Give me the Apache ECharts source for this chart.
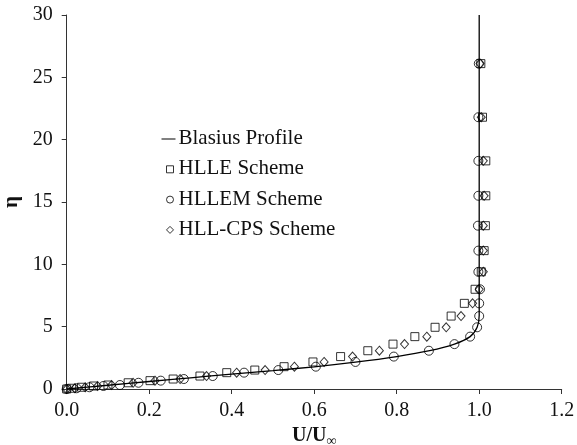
<!DOCTYPE html>
<html>
<head>
<meta charset="utf-8">
<script src="https://cdn.jsdelivr.net/npm/echarts@6/dist/echarts.min.js"></script>
<style>
  html, body { margin: 0; padding: 0; background: #fff; }
  #chart { width: 577px; height: 445px; }
</style>
</head>
<body>
<div id="chart"></div>
<script>
// eta levels shared by the three schemes
var etaLevels = [0, 0.06, 0.14, 0.24, 0.32, 0.5, 0.67, 0.8, 1.04, 1.31, 1.52, 1.79, 2.17, 2.6,
  3.07, 3.6, 4.2, 4.95, 5.85, 6.87, 8.0, 9.4, 11.1, 13.1, 15.5, 18.3, 21.8, 26.1];

var hlleU = [0, 0.012, 0.036, 0.065, 0.10, 0.149, 0.202, 0.258, 0.323, 0.388, 0.456, 0.527, 0.597, 0.664,
  0.730, 0.791, 0.844, 0.893, 0.932, 0.964, 0.99, 1.005, 1.012, 1.015, 1.016, 1.016, 1.008, 1.004];
var hllemU = [0, 0.024, 0.055, 0.089, 0.129, 0.174, 0.228, 0.284, 0.354, 0.43, 0.513, 0.604, 0.70, 0.793,
  0.878, 0.94, 0.978, 0.995, 1.0, 1.0, 1.002, 0.998, 0.998, 0.997, 0.998, 0.998, 0.998, 0.999];
var hllcpsU = [0, 0.02, 0.045, 0.075, 0.109, 0.161, 0.214, 0.275, 0.339, 0.412, 0.481, 0.552, 0.624, 0.693,
  0.758, 0.819, 0.873, 0.92, 0.956, 0.984, 1.0, 1.01, 1.01, 1.01, 1.012, 1.01, 1.005, 1.002];

// Blasius reference curve
var blasiusU = [0, 0.1, 0.2, 0.3, 0.4, 0.5, 0.6, 0.7, 0.8, 0.88, 0.94, 0.978, 0.995, 1.0, 1.0];
var blasiusEta = [0, 0.3, 0.6, 0.9, 1.2, 1.48, 1.78, 2.15, 2.6, 3.07, 3.6, 4.2, 4.95, 5.9, 30];

var xTicks = ['0.0', '0.2', '0.4', '0.6', '0.8', '1.0', '1.2'];

function pairs(us, etas) {
  var out = [];
  for (var i = 0; i < us.length; i++) out.push([us[i], etas[i]]);
  return out;
}

var font = '"Liberation Serif", "Times New Roman", serif';
var markerStyle = { color: 'transparent', borderColor: '#000', borderWidth: 1 };

// legend icons: the leading moves keep the 16x20 box so the small mark keeps its size
var box = 'M0,0 M16,20 ';
var iconLine = 'path://' + box + 'M0,10 L14,10 L14,11 L0,11 Z';
var iconRect = 'path://' + box + 'M5,7 L12,7 L12,14 L5,14 Z';
var iconCircle = 'path://' + box + 'M5,10.5 A3.5,3.5 0 1 1 12,10.5 A3.5,3.5 0 1 1 5,10.5 Z';
var iconDiamond = 'path://' + box + 'M8.5,7 L12,10.5 L8.5,14 L5,10.5 Z';

var chart = echarts.init(document.getElementById('chart'));
chart.setOption({
  animation: false,
  backgroundColor: '#fff',
  textStyle: { fontFamily: font, color: '#111' },
  grid: { left: 66.7, right: 15.3, top: 15, bottom: 56, containLabel: false, outerBoundsMode: 'none' },
  legend: {
    orient: 'vertical',
    left: 156,
    top: 123,
    itemGap: 9.3,
    itemWidth: 16,
    itemHeight: 20,
    textStyle: { fontFamily: font, fontSize: 21, color: '#111', padding: [0, 0, 0, -4] },
    data: [
      { name: 'Blasius Profile', icon: iconLine, itemStyle: { color: '#000', borderWidth: 0 } },
      { name: 'HLLE Scheme', icon: iconRect, itemStyle: markerStyle },
      { name: 'HLLEM Scheme', icon: iconCircle, itemStyle: markerStyle },
      { name: 'HLL-CPS Scheme', icon: iconDiamond, itemStyle: markerStyle }
    ]
  },
  xAxis: {
    type: 'value',
    min: 0, max: 1.2, interval: 0.2,
    name: '{b|U/U}{s|∞}',
    nameLocation: 'middle',
    nameGap: 33,
    nameTextStyle: {
      rich: {
        b: { fontFamily: font, fontSize: 20, fontWeight: 'bold', color: '#111' },
        s: { fontFamily: font, fontSize: 14, fontWeight: 'bold', color: '#111', padding: [10, 0, 0, 0] }
      }
    },
    splitLine: { show: false },
    axisLine: { lineStyle: { color: '#333', width: 1 } },
    axisTick: { show: true, inside: false, length: 5, lineStyle: { color: '#333' } },
    axisLabel: {
      fontSize: 20, color: '#111', margin: 12,
      formatter: function (v) { return xTicks[Math.round(v / 0.2)]; }
    }
  },
  yAxis: {
    type: 'value',
    min: 0, max: 30, interval: 5,
    name: 'η',
    nameLocation: 'middle',
    nameGap: 45,
    nameRotate: 90,
    nameTextStyle: { fontFamily: font, fontSize: 21, fontWeight: 'bold', color: '#111' },
    splitLine: { show: false },
    axisLine: { show: true, lineStyle: { color: '#333', width: 1 } },
    axisTick: { show: true, inside: false, length: 5, lineStyle: { color: '#333' } },
    axisLabel: { fontSize: 20, color: '#111', margin: 14 }
  },
  series: [
    {
      name: 'Blasius Profile',
      type: 'line',
      data: pairs(blasiusU, blasiusEta),
      showSymbol: false,
      smooth: 0.3,
      lineStyle: { color: '#000', width: 1.3 },
      itemStyle: { color: '#000' },
      z: 3
    },
    {
      name: 'HLLE Scheme',
      type: 'scatter',
      data: pairs(hlleU, etaLevels),
      symbol: 'rect',
      symbolSize: 8,
      itemStyle: markerStyle,
      z: 2
    },
    {
      name: 'HLLEM Scheme',
      type: 'scatter',
      data: pairs(hllemU, etaLevels),
      symbol: 'circle',
      symbolSize: 9,
      itemStyle: markerStyle,
      z: 2
    },
    {
      name: 'HLL-CPS Scheme',
      type: 'scatter',
      data: pairs(hllcpsU, etaLevels),
      symbol: 'diamond',
      symbolSize: [8, 9],
      itemStyle: markerStyle,
      z: 2
    }
  ]
});
</script>
</body>
</html>
